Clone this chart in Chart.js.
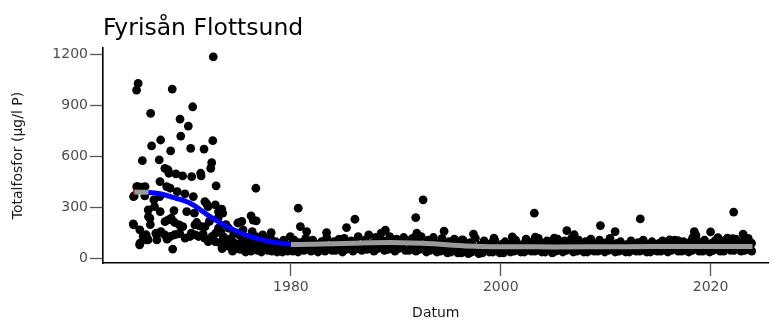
<!DOCTYPE html>
<html>
<head>
<meta charset="utf-8">
<script src="https://cdn.jsdelivr.net/npm/chart.js@4"></script>
<style>
  html, body { margin: 0; padding: 0; background: #fff; }
</style>
</head>
<body>
<canvas id="tpChart" width="773" height="322"></canvas>
<script>
// Fyrisån Flottsund - totalfosfor (µg/l P)

// 1965-1978: enskilda prover, läst ur figuren
const earlyDates = [
  1964.97, 1965.0, 1965.02, 1965.06, 1965.29, 1965.44, 1965.3, 1965.4, 1965.6, 1965.62, 1965.58,
  1965.8, 1965.84, 1965.92, 1966.08, 1966.1, 1966.2, 1966.22, 1966.3, 1966.4, 1966.42, 1966.38,
  1966.56, 1966.6, 1966.63, 1966.72, 1966.94, 1967.0, 1967.13, 1967.2, 1967.22, 1967.45, 1967.52,
  1967.5, 1967.54, 1967.58, 1967.6, 1967.99, 1967.97, 1968.0, 1968.16, 1968.2, 1968.3, 1968.31,
  1968.37, 1968.5, 1968.52, 1968.54, 1968.6, 1968.69, 1968.73, 1968.85, 1968.9, 1968.92, 1969.04,
  1969.17, 1969.26, 1969.36, 1969.4, 1969.43, 1969.5, 1969.68, 1969.7, 1969.9, 1969.92, 1970.07,
  1970.22, 1970.38, 1970.45, 1970.5, 1970.54, 1970.64, 1970.7, 1970.8, 1970.85, 1970.9, 1971.02,
  1971.2, 1971.3, 1971.4, 1971.44, 1971.63, 1971.72, 1971.8, 1971.82, 1971.78, 1971.98, 1972.1,
  1972.12, 1972.23, 1972.36, 1972.45, 1972.5, 1972.55, 1972.6, 1972.8, 1972.82, 1972.78, 1972.87,
  1973.09, 1973.1, 1973.41, 1973.5, 1974.2, 1974.9, 1975.32, 1976.2, 1976.4, 1976.66, 1976.7, 1978.12
];
const earlyValues = [
  205, 365, 199, 369, 990, 1029, 424, 424, 170, 92, 82,
  420, 576, 131, 369, 424, 141, 111, 121, 287, 248, 111,
  238, 201, 853, 662, 346, 306, 150, 141, 111, 580, 453,
  365, 277, 697, 160, 531, 141, 218, 424, 115, 521, 228,
  502, 414, 131, 633, 238, 996, 57, 283, 141, 213, 498,
  394, 146, 199, 150, 820, 720, 486, 189, 381, 121, 277,
  779, 131, 648, 150, 482, 892, 365, 268, 199, 140, 213,
  131, 193, 502, 486, 146, 644, 336, 189, 121, 322, 306,
  101, 219, 531, 564, 131, 693, 1185, 316, 150, 101, 428,
  180, 277, 291, 268, 111, 150, 219, 252, 227, 414, 223, 154
];

// 1973-2023: täta mätserier, värden per år i tidsordning
const bandYears = [
  1973, 1974, 1975, 1976, 1977, 1978, 1979, 1980, 1981, 1982, 1983, 1984, 1985, 1986, 1987, 1988,
  1989, 1990, 1991, 1992, 1993, 1994, 1995, 1996, 1997, 1998, 1999, 2000, 2001, 2002, 2003, 2004,
  2005, 2006, 2007, 2008, 2009, 2010, 2011, 2012, 2013, 2014, 2015, 2016, 2017, 2018, 2019, 2020,
  2021, 2022, 2023
];
const bandValues = [
  [240, 95, 160, 60, 130, 75, 200, 110],
  [180, 70, 120, 45, 150, 90, 60, 210],
  [140, 55, 100, 170, 80, 40, 120, 65],
  [110, 45, 160, 70, 90, 130, 50, 75],
  [95, 40, 140, 60, 80, 115, 50, 70],
  [120, 45, 85, 60, 100, 40, 70, 55],
  [90, 40, 110, 55, 75, 45, 65, 130],
  [85, 45, 110, 60, 75, 40, 95, 55],
  [95, 50, 120, 65, 80, 45],
  [110, 55, 85, 40, 70, 100],
  [90, 45, 125, 60, 75, 50],
  [100, 50, 80, 115, 60, 40],
  [120, 55, 90, 65, 105, 45],
  [95, 60, 130, 70, 50, 85],
  [110, 55, 140, 75, 90, 45],
  [125, 60, 95, 70, 105, 50],
  [100, 55, 130, 80, 65, 45],
  [115, 60, 90, 70, 125, 50],
  [105, 50, 85, 120, 65, 45],
  [95, 55, 130, 70, 85, 40],
  [110, 50, 80, 125, 60, 40],
  [90, 45, 120, 65, 75, 35],
  [100, 40, 70, 115, 55, 35],
  [85, 35, 110, 60, 45, 30],
  [95, 40, 70, 120, 50, 30],
  [80, 35, 105, 55, 65, 40],
  [90, 40, 110, 60, 45, 35],
  [85, 35, 100, 55, 70, 40],
  [95, 45, 110, 60, 75, 40],
  [85, 40, 115, 55, 70, 45],
  [100, 45, 80, 120, 60, 40],
  [90, 40, 105, 55, 70, 35],
  [95, 45, 115, 60, 75, 40],
  [105, 50, 85, 60, 120, 40],
  [90, 45, 110, 55, 75, 40],
  [100, 40, 80, 115, 60, 45],
  [85, 45, 110, 60, 70, 40],
  [95, 50, 120, 65, 80, 40],
  [90, 45, 100, 55, 70, 40],
  [85, 40, 105, 60, 70, 45],
  [95, 45, 80, 110, 55, 40],
  [85, 40, 100, 55, 70, 45],
  [90, 45, 105, 60, 75, 40],
  [95, 50, 80, 110, 60, 45],
  [90, 45, 100, 60, 70, 40],
  [100, 50, 85, 115, 65, 45],
  [95, 45, 110, 60, 75, 40],
  [90, 50, 105, 65, 80, 45],
  [95, 45, 110, 60, 75, 50],
  [90, 50, 115, 65, 80, 45],
  [100, 50, 85, 120, 65, 45]
];

// enstaka höga värden efter 1980
const peakDates = [
  1980.7, 1980.9, 1981.5, 1983.4, 1985.3, 1986.1, 1988.6, 1989.0, 1991.9, 1992.0, 1992.6, 1994.6,
  1996.3, 1997.4, 1999.35, 2001.1, 2003.2, 2003.3, 2005.1, 2006.3, 2007.0, 2009.5, 2010.9, 2013.3,
  2016.1, 2016.9, 2018.3, 2018.45, 2018.6, 2020.0, 2020.7, 2021.6, 2022.1, 2022.2, 2023.1, 2023.9
];
const peakValues = [
  297, 189, 160, 154, 183, 232, 150, 168, 242, 150, 346, 162,
  111, 145, 121, 129, 268, 127, 121, 165, 141, 195, 160, 234,
  111, 107, 125, 160, 137, 158, 124, 121, 118, 274, 145, 92
];

// utjämnad trendkurva, delad efter färg
const trendRedDates = [1964.95, 1965.08];
const trendRedValues = [392, 392];
const trendGrayStartDates = [1965.08, 1966.4];
const trendGrayStartValues = [392, 390];
const trendBlueDates = [1966.4, 1967.5, 1969.0, 1970.4, 1972.3, 1974.2, 1976.1, 1978.0, 1980.0];
const trendBlueValues = [390, 382, 356, 326, 248, 180, 131, 101, 84];
const trendGrayDates = [1980.0, 1982.0, 1985.0, 1987.5, 1989.5, 1991.5, 1993.5, 1995.5, 1997.5, 2000.0, 2005.0, 2010.0, 2015.0, 2020.0, 2024.0];
const trendGrayValues = [84, 86, 90, 94, 95, 93, 88, 80, 74, 71, 70, 71, 72, 72, 72];

const xTicks = [1980, 2000, 2020];
const yTicks = [0, 300, 600, 900, 1200];

function toXY(dates, values) {
    return dates.map((d, i) => ({ x: d, y: values[i] }));
}

const samples = toXY(earlyDates, earlyValues);
bandYears.forEach((yr, i) => {
    const vals = bandValues[i];
    vals.forEach((v, j) => samples.push({ x: yr + (j + 0.5) / vals.length, y: v }));
});
toXY(peakDates, peakValues).forEach(p => samples.push(p));

function trendLine(dates, values, color) {
    return {
        data: toXY(dates, values),
        showLine: true,
        borderColor: color,
        borderWidth: 5,
        borderCapStyle: 'butt',
        pointRadius: 0,
        cubicInterpolationMode: 'monotone'
    };
}

// titel uppe till vänster, i linje med y-axeln
const titlePlugin = {
    id: 'plotTitle',
    afterDraw(chart) {
        const ctx = chart.ctx;
        ctx.save();
        ctx.font = '23.5px "DejaVu Sans"';
        ctx.fillStyle = '#000';
        ctx.textBaseline = 'alphabetic';
        ctx.fillText('Fyrisån Flottsund', chart.chartArea.left, 35);
        ctx.restore();
    }
};

const tickFont = { family: 'DejaVu Sans', size: 14 };
const titleFont = { family: 'DejaVu Sans', size: 14 };

const ctx = document.getElementById('tpChart').getContext('2d');
new Chart(ctx, {
    type: 'scatter',
    data: {
        datasets: [
            trendLine(trendRedDates, trendRedValues, '#e00000'),
            trendLine(trendGrayStartDates, trendGrayStartValues, '#999999'),
            trendLine(trendBlueDates, trendBlueValues, '#0000ff'),
            trendLine(trendGrayDates, trendGrayValues, '#999999'),
            {
                data: samples,
                backgroundColor: '#000',
                borderWidth: 0,
                pointRadius: 4.4
            }
        ]
    },
    options: {
        responsive: false,
        animation: false,
        devicePixelRatio: 1,
        layout: { padding: { top: 48, left: 0, right: 0, bottom: 0 } },
        plugins: {
            legend: { display: false },
            tooltip: { enabled: false }
        },
        scales: {
            x: {
                type: 'linear',
                min: 1962.09,
                max: 2025.53,
                afterBuildTicks: scale => { scale.ticks = xTicks.map(v => ({ value: v })); },
                afterFit: scale => { scale.height = 59; },
                border: { display: true, color: '#000', width: 1.6 },
                grid: { display: true, drawOnChartArea: false, drawTicks: true, tickLength: 13, tickColor: '#555', tickWidth: 1.3 },
                ticks: { color: '#4d4d4d', font: tickFont, padding: 3, maxRotation: 0, callback: v => String(v) },
                title: { display: true, text: 'Datum', color: '#1a1a1a', font: titleFont, padding: { top: 0, bottom: 0 } }
            },
            y: {
                min: -24.6,
                max: 1236.8,
                afterBuildTicks: scale => { scale.ticks = yTicks.map(v => ({ value: v })); },
                afterFit: scale => { scale.width = 103; },
                border: { display: true, color: '#000', width: 1.6 },
                grid: { display: true, drawOnChartArea: false, drawTicks: true, tickLength: 13, tickColor: '#555', tickWidth: 1.3 },
                ticks: { color: '#4d4d4d', font: tickFont, padding: 2, callback: v => String(v) },
                title: { display: true, text: 'Totalfosfor (µg/l P)', color: '#1a1a1a', font: titleFont, padding: { top: 10, bottom: 0 } }
            }
        }
    },
    plugins: [titlePlugin]
});
</script>
</body>
</html>
